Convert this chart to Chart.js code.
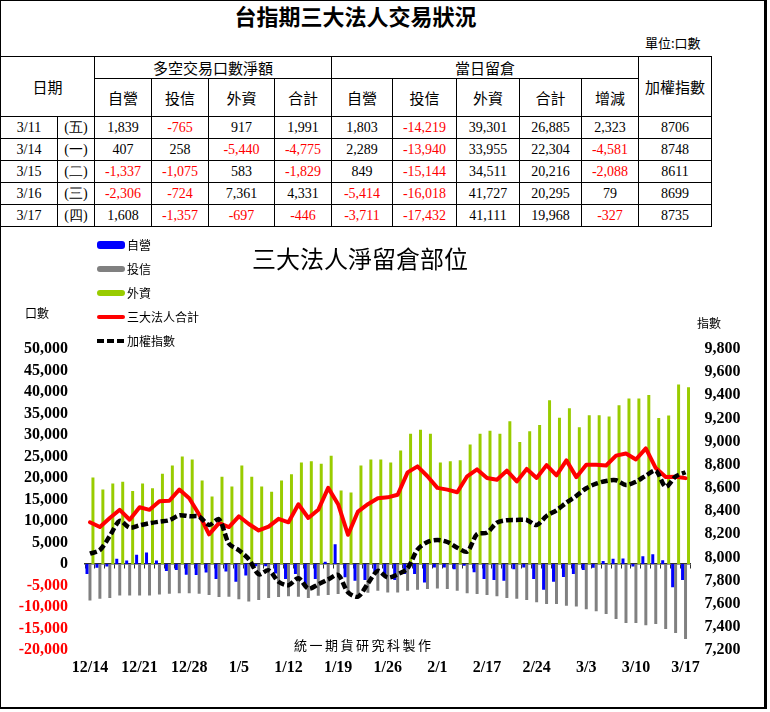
<!DOCTYPE html>
<html>
<head>
<meta charset="utf-8">
<script src="https://cdn.jsdelivr.net/npm/chart.js@4.4.0/dist/chart.umd.min.js"></script>
<style>
body { margin: 0; background: #fff; }
#page { position: relative; width: 770px; height: 712px; overflow: hidden; font-family: "Noto Sans CJK TC", sans-serif; color: #000; }
#frame { position: absolute; left: 0; top: 0; width: 763px; height: 706px; border-left: 1px solid #000; border-top: 1px solid #000; border-right: 3px solid #000; border-bottom: 2px solid #000; }
#title { position: absolute; left: 0; top: 0; width: 711px; line-height: 30px; text-align: center; font-size: 22px; font-weight: bold; }
#unit { position: absolute; left: 645px; top: 34px; font-size: 13px; line-height: 18px; }
#tbl { position: absolute; left: 0; top: 56px; width: 712px; border-collapse: collapse; table-layout: fixed; }
#tbl td { border: 1px solid #000; padding: 0; text-align: center; font-family: "Liberation Serif", serif; font-size: 14px; line-height: 16px; }
#tbl td.hd { font-family: "Noto Sans CJK TC", sans-serif; font-size: 15px; }
#tbl td.neg { color: #ff0000; }
#chartTitle { position: absolute; left: 240px; width: 240px; top: 243px; text-align: center; font-size: 24px; line-height: 30px; }
.axisTitle { position: absolute; font-size: 12px; line-height: 16px; }
#footer { position: absolute; left: 294px; top: 636px; font-size: 13px; line-height: 18px; letter-spacing: 2.5px; }
#legend .item { position: absolute; left: 97px; height: 16px; font-size: 12px; line-height: 16px; }
#legend .sym { position: absolute; left: 0; width: 28px; }
#legend .txt { position: absolute; left: 30px; top: 0; white-space: nowrap; }
#wrap { position: absolute; left: 0; top: 230px; width: 770px; height: 482px; }
</style>
</head>
<body>
<div id="page">
  <div id="title">台指期三大法人交易狀況</div>
  <div id="unit">單位:口數</div>
  <table id="tbl"></table>
  <div id="wrap"><canvas id="myChart" width="770" height="482"></canvas></div>
  <div id="chartTitle">三大法人淨留倉部位</div>
  <div class="axisTitle" style="left:25px;top:305px;">口數</div>
  <div class="axisTitle" style="left:697px;top:315px;">指數</div>
  <div id="footer">統一期貨研究科製作</div>
  <div id="legend"></div>
  <div id="frame"></div>
</div>
<script>
// ---- table data (last 5 trading days) ----
const tblDates = ['3/11', '3/14', '3/15', '3/16', '3/17'];
const tblDays = ['(五)', '(一)', '(二)', '(三)', '(四)'];
const netProp = [1839, 407, -1337, -2306, 1608];
const netTrust = [-765, 258, -1075, -724, -1357];
const netForeign = [917, -5440, 583, 7361, -697];
const netTotal = [1991, -4775, -1829, 4331, -446];
const oiProp = [1803, 2289, 849, -5414, -3711];
const oiTrust = [-14219, -13940, -15144, -16018, -17432];
const oiForeign = [39301, 33955, 34511, 41727, 41111];
const oiTotal = [26885, 22304, 20216, 20295, 19968];
const oiChange = [2323, -4581, -2088, 79, -327];
const idxClose = [8706, 8748, 8611, 8699, 8735];

// ---- chart data (61 trading days, 12/14 - 3/17) ----
const tickLabels = ['12/14', '12/21', '12/28', '1/5', '1/12', '1/19', '1/26', '2/1', '2/17', '2/24', '3/3', '3/10', '3/17'];

const propOI = [-2300, -850, -600, 1250, 800, 2150, 2650, 800, -1600, -1400,
  -2500, -2550, -2000, -3500, -1750, -4100, -2700, -500, -500, -2200,
  -3500, -2300, -5400, -3500, 500, 4600, -3100, -3900, -3700, -1900,
  -2300, -3700, -2300, -2300, -4300, -800, -800, -1200, -400, -1900,
  -3500, -3700, -3900, -1200, -800, -3500, -6000, -4100, -3000, -2300,
  -1400, -900, 700, 1200, 1300, -600, 1803, 2289, 849, -5414, -3711];

const trustOI = [-8500, -8100, -7900, -7300, -7300, -7300, -7300, -7100, -6900, -6800,
  -6800, -6900, -7200, -7700, -7600, -8200, -8700, -8400, -7900, -7700,
  -7500, -7600, -7900, -7400, -7200, -7000, -7100, -7000, -6700, -6200,
  -6600, -6600, -6200, -6000, -5800, -5700, -5800, -6200, -6800, -7000,
  -7200, -7500, -7900, -8100, -8400, -8900, -9300, -9300, -9700, -9900,
  -10500, -11000, -11600, -12800, -13700, -13700, -14219, -13940, -15144, -16018, -17432];

const foreignOI = [20100, 17300, 18700, 19100, 17000, 18700, 17600, 21000, 22900, 25000,
  24300, 19400, 15700, 20300, 18000, 22900, 20300, 18000, 16800, 19400,
  20900, 23600, 23900, 23300, 25200, 17100, 16600, 22900, 24300, 24300,
  23600, 26400, 30300, 31200, 30300, 23600, 23900, 24100, 27800, 30300,
  31000, 30300, 33200, 28400, 30900, 32300, 38100, 34000, 36200, 31800,
  34600, 34600, 34300, 36900, 38500, 38500, 39301, 33955, 34511, 41727, 41111];

const totalOI = [9700, 8600, 10700, 12600, 10300, 13200, 12600, 14600, 14700, 17300,
  15300, 11500, 6900, 9500, 8600, 11100, 9300, 7800, 8700, 10500,
  9700, 13900, 10700, 12600, 17700, 13900, 6800, 12200, 13900, 15300,
  15500, 16100, 21300, 22700, 20400, 17700, 17300, 16700, 20400, 22000,
  20000, 19600, 21700, 19200, 22100, 20000, 23000, 20600, 24100, 20200,
  23100, 23100, 22900, 25200, 25700, 24300, 26885, 22304, 20216, 20295, 19968];

const taiex = [8032, 8064, 8185, 8315, 8257, 8277, 8295, 8309, 8321, 8364,
  8355, 8352, 8280, 8329, 8119, 8062, 7984, 7854, 7889, 7790,
  7760, 7820, 7730, 7767, 7810, 7848, 7698, 7661, 7774, 7883,
  7826, 7854, 7906, 8068, 8133, 8151, 8133, 8084, 8050, 8200,
  8214, 8300, 8321, 8323, 8323, 8280, 8358, 8407, 8473, 8531,
  8597, 8637, 8660, 8666, 8626, 8654, 8706, 8748, 8611, 8699, 8735];

// one label every 5 trading days, blanks in between
const labels = propOI.map((v, i) => (i % 5 === 0 ? tickLabels[i / 5] : ''));

function fmt(v) { return v.toLocaleString('en-US'); }

/*~~~~~~~~~~~~~~~~~~~~~~ TABLE ~~~~~~~~~~~~~~~~~~~~~~*/
const tbl = document.getElementById('tbl');
let html = '<colgroup>';
[57, 37, 57, 57, 66, 57, 61, 64, 63, 62, 57, 73].forEach(w => { html += '<col style="width:' + w + 'px">'; });
html += '</colgroup>';
html += '<tr style="height:22px"><td class="hd" rowspan="2" colspan="2">日期</td><td class="hd" colspan="4">多空交易口數淨額</td>' +
  '<td class="hd" colspan="5">當日留倉</td><td class="hd" rowspan="2">加權指數</td></tr>';
html += '<tr style="height:38px">';
['自營', '投信', '外資', '合計', '自營', '投信', '外資', '合計', '增減'].forEach(t => { html += '<td class="hd">' + t + '</td>'; });
html += '</tr>';
for (let i = 0; i < tblDates.length; i++) {
  html += '<tr style="height:22px"><td>' + tblDates[i] + '</td><td>' + tblDays[i] + '</td>';
  [netProp, netTrust, netForeign, netTotal, oiProp, oiTrust, oiForeign, oiTotal, oiChange].forEach(arr => {
    const v = arr[i];
    html += '<td' + (v < 0 ? ' class="neg"' : '') + '>' + fmt(v) + '</td>';
  });
  html += '<td>' + idxClose[i] + '</td></tr>';
}
tbl.innerHTML = html;

/*~~~~~~~~~~~~~~~~~~~~~~ CHART ~~~~~~~~~~~~~~~~~~~~~~*/
const tickFont = { family: 'Liberation Serif', size: 16, weight: 'bold' };
const ctx = document.getElementById('myChart').getContext('2d');
const myChart = new Chart(ctx, {
  type: 'bar',
  data: {
    labels: labels,
    datasets: [
      { label: '自營', data: propOI, backgroundColor: '#0000ff', yAxisID: 'y', order: 2 },
      { label: '投信', data: trustOI, backgroundColor: '#808080', yAxisID: 'y', order: 2 },
      { label: '外資', data: foreignOI, backgroundColor: '#99cc00', yAxisID: 'y', order: 2 },
      { type: 'line', label: '三大法人合計', data: totalOI, borderColor: '#ff0000', borderWidth: 4,
        pointRadius: 0, borderJoinStyle: 'round', borderCapStyle: 'round', yAxisID: 'y', order: 1 },
      { type: 'line', label: '加權指數', data: taiex, borderColor: '#000000', borderWidth: 4.5,
        borderDash: [7, 3], pointRadius: 0, tension: 0.3, yAxisID: 'y1', order: 0 }
    ]
  },
  options: {
    responsive: false,
    animation: false,
    devicePixelRatio: 1,
    layout: { padding: { top: 119, left: 0, right: 0, bottom: 0 } },
    plugins: { legend: { display: false }, tooltip: { enabled: false } },
    datasets: { bar: { categoryPercentage: 0.9, barPercentage: 1.0 } },
    scales: {
      x: {
        position: 'bottom',
        grid: { display: false, drawTicks: false },
        border: { display: false },
        ticks: { autoSkip: false, maxRotation: 0, padding: 8, color: '#000', font: tickFont },
        afterFit: function (s) { s.height = 62; }
      },
      x2: {
        type: 'category',
        position: { y: 0 },
        offset: true,
        z: 1,
        grid: { offset: true, drawOnChartArea: false, tickLength: 4, color: '#333' },
        border: { color: '#333', width: 1.5 },
        ticks: { display: false }
      },
      y: {
        position: 'left',
        min: -20000,
        max: 50000,
        grid: { display: false, drawTicks: false },
        border: { display: false },
        ticks: {
          autoSkip: false, stepSize: 5000, padding: 17, font: tickFont,
          color: c => (c.tick && c.tick.value < 0 ? '#ff0000' : '#000'),
          callback: v => fmt(v)
        },
        afterFit: function (s) { s.width = 85; }
      },
      y1: {
        position: 'right',
        min: 7200,
        max: 9800,
        grid: { display: false, drawTicks: false },
        border: { display: false },
        ticks: { autoSkip: false, stepSize: 200, padding: 14, color: '#000', font: tickFont, callback: v => fmt(v) },
        afterFit: function (s) { s.width = 79.5; }
      }
    }
  }
});

/*~~~~~~~~~~~~~~~~~~~~~~ LEGEND ~~~~~~~~~~~~~~~~~~~~~~*/
const legendEl = document.getElementById('legend');
myChart.data.datasets.forEach(function (ds, i) {
  const item = document.createElement('div');
  item.className = 'item';
  item.style.top = (237 + i * 24.1) + 'px';
  const sym = document.createElement('div');
  sym.className = 'sym';
  if (ds.type === 'line') {
    sym.style.top = '6px';
    sym.style.height = '4px';
    if (ds.borderDash) {
      sym.style.background = 'repeating-linear-gradient(90deg,' + ds.borderColor + ' 0 7px, transparent 7px 10px)';
    } else {
      sym.style.background = ds.borderColor;
      sym.style.borderRadius = '2px';
    }
  } else {
    sym.style.top = (i === 0 ? 4 : 5) + 'px';
    sym.style.height = (i === 0 ? 8 : 6) + 'px';
    sym.style.background = ds.backgroundColor;
    sym.style.borderRadius = '3px';
  }
  const txt = document.createElement('div');
  txt.className = 'txt';
  txt.textContent = ds.label;
  item.appendChild(sym);
  item.appendChild(txt);
  legendEl.appendChild(item);
});
</script>
</body>
</html>
